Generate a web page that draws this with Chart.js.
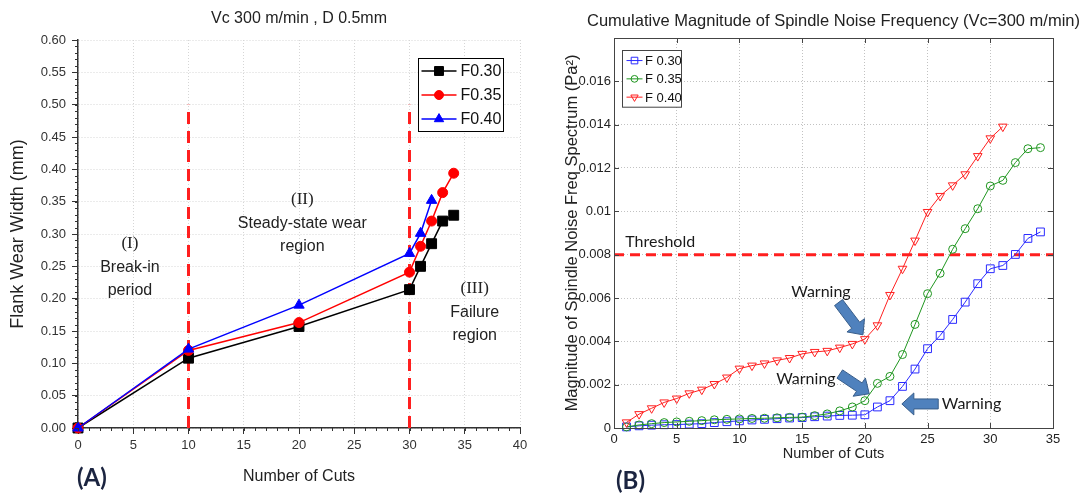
<!DOCTYPE html>
<html>
<head>
<meta charset="utf-8">
<title>Flank wear and spindle noise</title>
<script src="https://cdn.jsdelivr.net/npm/chart.js@4.4.1/dist/chart.umd.min.js"></script>
<style>
  html, body { margin: 0; padding: 0; background: #fff; }
  #wrap { position: relative; width: 1085px; height: 497px; overflow: hidden; }
  canvas { position: absolute; top: 0; }
  .panel-tag { position: absolute; font: bold 24px Lato, "Open Sans", sans-serif; line-height: 29px; color: #1b2440; }
</style>
</head>
<body>
<div id="wrap">
  <canvas id="chart-wear" width="545" height="497" style="left:0"></canvas>
  <canvas id="chart-noise" width="540" height="497" style="left:545px"></canvas>
  <div class="panel-tag" style="left:77px;top:462px">(A)</div>
  <div class="panel-tag" style="left:616px;top:465px">(B)</div>
</div>
<script>
/**
 * (A) flank wear vs cuts, (B) cumulative spindle noise magnitude vs cuts.
 */
var SANS = "'Liberation Sans', Arial, sans-serif";
var SERIF = "'Liberation Serif', 'Times New Roman', serif";
var NOTE = "Lato, 'Open Sans', sans-serif";

// --- (A) flank wear width (mm)
var cutsWear = [0, 10, 20, 30, 31, 32, 33, 34];
var cutsWearF040 = [0, 10, 20, 30, 31, 32];
var wearF030 = [0, 0.108, 0.157, 0.214, 0.25, 0.285, 0.32, 0.329];
var wearF035 = [0, 0.12, 0.163, 0.241, 0.281, 0.32, 0.364, 0.394];
var wearF040 = [0, 0.122, 0.19, 0.27, 0.301, 0.352];
var wearNames = ["F0.30", "F0.35", "F0.40"];
var phaseBounds = [10, 30];
var phaseLineTop = 0.5;
var phaseNum = ["(I)", "(II)", "(III)"];
var phaseText = [["Break-in", "period"], ["Steady-state wear", "region"], ["Failure", "region"]];
var phaseX = [4.7, 20.3, 35.9];
var phaseY = [0.285, 0.353, 0.2155];

// --- (B) cumulative magnitude of spindle noise (Pa^2)
var cutsNoise = [1, 2, 3, 4, 5, 6, 7, 8, 9, 10, 11, 12, 13, 14, 15, 16, 17, 18, 19, 20,
  21, 22, 23, 24, 25, 26, 27, 28, 29, 30, 31, 32, 33, 34];
var noiseF030 = [0.00005, 0.0001, 0.00013, 0.00015, 0.00016, 0.00018, 0.0002, 0.00025, 0.00029, 0.00033,
  0.00037, 0.0004, 0.00043, 0.00046, 0.00048, 0.00052, 0.00055, 0.00058, 0.00059, 0.00061,
  0.00097, 0.00126, 0.00192, 0.00272, 0.00366, 0.00427, 0.00501, 0.00581, 0.00666, 0.00735,
  0.0075, 0.00801, 0.00875, 0.00905];
var noiseF035 = [0.00005, 0.00014, 0.0002, 0.00025, 0.00028, 0.00031, 0.00034, 0.00038, 0.0004, 0.00042,
  0.00044, 0.00045, 0.00047, 0.00049, 0.0005, 0.00057, 0.00065, 0.00079, 0.00097, 0.00126,
  0.00206, 0.00238, 0.00339, 0.00478, 0.0062, 0.00714, 0.00825, 0.0092, 0.01012, 0.01117,
  0.01143, 0.01225, 0.01289, 0.01294];
var noiseF040 = [0.00026, 0.00064, 0.00091, 0.00118, 0.00136, 0.0016, 0.00177, 0.00203, 0.00233, 0.00274,
  0.00288, 0.00298, 0.00312, 0.00323, 0.00342, 0.00351, 0.00356, 0.00371, 0.00388, 0.0041,
  0.00474, 0.00614, 0.00735, 0.00865, 0.00997, 0.01071, 0.0112, 0.01171, 0.01255, 0.01337,
  0.01391];
var noiseNames = ["F 0.30", "F 0.35", "F 0.40"];
var threshold = 0.008;
var thresholdText = "Threshold";
var thresholdLabelX = 0.9;
var thresholdLabelY = 0.0086;
var warnText = "Warning";
var warnX = [16.5, 15.3, 28.5];
var warnY = [0.0063, 0.00226, 0.00111];
var arrowFromX = [17.9, 18.0, 25.85];
var arrowFromY = [0.00579, 0.00249, 0.00111];
var arrowToX = [19.85, 20.35, 22.95];
var arrowToY = [0.0043, 0.00158, 0.00111];

function pts(xs, ys) {
  return ys.map(function (y, i) { return { x: xs[i], y: y }; });
}

function drawBlockArrow(ctx, x0, y0, x1, y1, shaft, head, headLen) {
  var dx = x1 - x0, dy = y1 - y0;
  var len = Math.sqrt(dx * dx + dy * dy);
  var ux = dx / len, uy = dy / len, nx = -uy, ny = ux;
  var bx = x1 - ux * headLen, by = y1 - uy * headLen;
  ctx.beginPath();
  ctx.moveTo(x0 + nx * shaft, y0 + ny * shaft);
  ctx.lineTo(bx + nx * shaft, by + ny * shaft);
  ctx.lineTo(bx + nx * head, by + ny * head);
  ctx.lineTo(x1, y1);
  ctx.lineTo(bx - nx * head, by - ny * head);
  ctx.lineTo(bx - nx * shaft, by - ny * shaft);
  ctx.lineTo(x0 - nx * shaft, y0 - ny * shaft);
  ctx.closePath();
  ctx.fill();
  ctx.stroke();
}

// chart heading centred on the plot area, not squeezed to its width
var headingPlugin = {
  id: "heading",
  afterDraw: function (chart, args, opts) {
    var a = chart.chartArea, ctx = chart.ctx;
    ctx.save();
    ctx.font = opts.font;
    ctx.fillStyle = opts.color;
    ctx.textAlign = "center";
    ctx.textBaseline = "middle";
    ctx.fillText(opts.text, (a.left + a.right) / 2, opts.y);
    ctx.restore();
  },
};

// text + arrow annotations placed in data units
var notesPlugin = {
  id: "notes",
  afterDatasetsDraw: function (chart, args, opts) {
    var xs = chart.scales.x, ys = chart.scales.y, ctx = chart.ctx;
    ctx.save();
    var arrows = opts.arrows || [];
    for (var i = 0; i < arrows.length; i++) {
      var a = arrows[i];
      ctx.fillStyle = "#4f81bd";
      ctx.strokeStyle = "#385d8a";
      ctx.lineWidth = 1;
      drawBlockArrow(ctx, xs.getPixelForValue(a.x0), ys.getPixelForValue(a.y0),
        xs.getPixelForValue(a.x1), ys.getPixelForValue(a.y1), 5, 11, 12);
    }
    var texts = opts.texts || [];
    for (var j = 0; j < texts.length; j++) {
      var t = texts[j];
      ctx.font = t.font;
      ctx.fillStyle = t.color || "#222";
      ctx.textAlign = t.align || "center";
      ctx.textBaseline = "middle";
      ctx.fillText(t.text, xs.getPixelForValue(t.x), ys.getPixelForValue(t.y) + (t.dy || 0));
    }
    ctx.restore();
  },
};

// boxed legend with line + marker samples
var boxLegendPlugin = {
  id: "boxLegend",
  afterDraw: function (chart, args, opts) {
    var ctx = chart.ctx, area = chart.chartArea;
    var items = chart.data.datasets.filter(function (ds) { return !ds.legendSkip; });
    var h = opts.pad * 2 + items.length * opts.row;
    var left = opts.fromRight != null ? area.right - opts.fromRight - opts.width : area.left + opts.fromLeft;
    var top = area.top + opts.fromTop;
    left = Math.round(left) + 0.5;
    top = Math.round(top) + 0.5;
    ctx.save();
    ctx.fillStyle = "#fff";
    ctx.fillRect(left, top, opts.width, h);
    ctx.strokeStyle = opts.border;
    ctx.lineWidth = 1;
    ctx.strokeRect(left, top, opts.width, h);
    items.forEach(function (ds, i) {
      var y = top + opts.pad + opts.row * (i + 0.5);
      var x0 = left + opts.lineStart;
      ctx.setLineDash([]);
      ctx.strokeStyle = ds.borderColor;
      ctx.lineWidth = ds.borderWidth;
      ctx.beginPath();
      ctx.moveTo(x0, y);
      ctx.lineTo(x0 + opts.lineLen, y);
      ctx.stroke();
      ctx.fillStyle = ds.pointBackgroundColor;
      ctx.strokeStyle = ds.pointBorderColor;
      ctx.lineWidth = ds.pointBorderWidth;
      Chart.helpers.drawPoint(ctx, {
        pointStyle: ds.pointStyle,
        rotation: ds.pointRotation || 0,
        radius: ds.pointRadius * opts.markerScale,
        borderWidth: ds.pointBorderWidth,
      }, x0 + opts.lineLen / 2, y);
      ctx.fillStyle = "#111";
      ctx.font = opts.font;
      ctx.textAlign = "left";
      ctx.textBaseline = "middle";
      ctx.fillText(ds.label, left + opts.textStart, y + 1);
    });
    ctx.restore();
  },
};

// short outward minor ticks on the (A) axes
var minorTicksPlugin = {
  id: "minorTicks",
  afterDraw: function (chart, args, opts) {
    var ctx = chart.ctx, xs = chart.scales.x, ys = chart.scales.y;
    var nx = Math.round((xs.max - xs.min) / opts.xStep);
    var ny = Math.round((ys.max - ys.min) / opts.yStep);
    ctx.save();
    ctx.strokeStyle = opts.color;
    ctx.lineWidth = 1;
    ctx.beginPath();
    for (var i = 0; i <= nx; i++) {
      var px = Math.round(xs.getPixelForValue(xs.min + i * opts.xStep)) + 0.5;
      ctx.moveTo(px, ys.bottom);
      ctx.lineTo(px, ys.bottom + opts.len);
    }
    for (var j = 0; j <= ny; j++) {
      var py = Math.round(ys.getPixelForValue(ys.min + j * opts.yStep)) + 0.5;
      ctx.moveTo(xs.left, py);
      ctx.lineTo(xs.left - opts.len, py);
    }
    ctx.stroke();
    ctx.restore();
  },
};

// MATLAB-like box with inward ticks for (B)
var frameTicksPlugin = {
  id: "frameTicks",
  afterDraw: function (chart, args, opts) {
    var a = chart.chartArea, ctx = chart.ctx, xs = chart.scales.x, ys = chart.scales.y;
    ctx.save();
    ctx.strokeStyle = opts.color;
    ctx.lineWidth = 1;
    ctx.setLineDash([]);
    ctx.beginPath();
    xs.ticks.forEach(function (t) {
      var px = Math.round(xs.getPixelForValue(t.value)) + 0.5;
      ctx.moveTo(px, a.bottom); ctx.lineTo(px, a.bottom - opts.len);
      ctx.moveTo(px, a.top); ctx.lineTo(px, a.top + opts.len);
    });
    ys.ticks.forEach(function (t) {
      var py = Math.round(ys.getPixelForValue(t.value)) + 0.5;
      ctx.moveTo(a.left, py); ctx.lineTo(a.left + opts.len, py);
      ctx.moveTo(a.right, py); ctx.lineTo(a.right - opts.len, py);
    });
    ctx.stroke();
    ctx.strokeRect(Math.round(a.left) + 0.5, Math.round(a.top) + 0.5,
      Math.round(a.right - a.left), Math.round(a.bottom - a.top));
    ctx.restore();
  },
};

function wearSeries(label, xs, ys, color, style, radius, order) {
  return {
    label: label, data: pts(xs, ys), order: order,
    borderColor: color, borderWidth: 1.5,
    pointStyle: style, pointRadius: radius, pointBorderWidth: 1,
    pointBackgroundColor: color, pointBorderColor: color,
    tension: 0, clip: false,
  };
}

function phaseLine(x) {
  return {
    label: "boundary", legendSkip: true, order: 9,
    data: [{ x: x, y: 0 }, { x: x, y: phaseLineTop }],
    borderColor: "#ff1f1f", borderWidth: 3, borderDash: [12, 7],
    pointRadius: 0, clip: false,
  };
}

var wearTexts = [];
phaseNum.forEach(function (num, i) {
  wearTexts.push({ x: phaseX[i], y: phaseY[i], text: num, font: "17px " + SERIF });
  phaseText[i].forEach(function (line, k) {
    wearTexts.push({ x: phaseX[i], y: phaseY[i], dy: 23.5 * (k + 1), text: line, font: "16px " + SANS });
  });
});

new Chart(document.getElementById("chart-wear"), {
  type: "line",
  data: {
    datasets: [
      wearSeries(wearNames[0], cutsWear, wearF030, "#000000", "rect", 7, 3),
      wearSeries(wearNames[1], cutsWear, wearF035, "#ff0000", "circle", 5, 2),
      wearSeries(wearNames[2], cutsWearF040, wearF040, "#0000ff", "triangle", 6, 1),
      phaseLine(phaseBounds[0]),
      phaseLine(phaseBounds[1]),
    ],
  },
  options: {
    responsive: false,
    animation: false,
    devicePixelRatio: 1,
    layout: { padding: { left: 0, right: 25, top: 40, bottom: 0 } },
    plugins: {
      legend: { display: false },
      tooltip: { enabled: false },
      title: { display: false },
      heading: { text: "Vc 300 m/min , D 0.5mm", y: 19, color: "#222", font: "16px " + SANS },
      notes: { texts: wearTexts },
      boxLegend: {
        fromRight: 17, fromTop: 18, width: 85, pad: 0.5, row: 24,
        lineStart: 3, lineLen: 35, textStart: 42, markerScale: 0.9,
        border: "#000", font: "16px " + SANS,
      },
      minorTicks: { xStep: 1, yStep: 0.01, len: 3, color: "#333" },
    },
    scales: {
      x: {
        type: "linear", min: 0, max: 40,
        ticks: { stepSize: 5, padding: 4, color: "#333", font: { family: SANS, size: 13 } },
        grid: { color: "#d6d6d6", lineWidth: 1, tickColor: "#333", tickLength: 6, tickWidth: 1 },
        border: { color: "#333", width: 1.5, dash: [1, 2] },
        title: {
          display: true, text: "Number of Cuts", color: "#222",
          font: { family: SANS, size: 16 }, padding: { top: 0, bottom: 10.7 },
        },
        afterFit: function (s) { s.height = 69; },
      },
      y: {
        type: "linear", min: 0, max: 0.6,
        ticks: {
          stepSize: 0.05, padding: 6, color: "#333", font: { family: SANS, size: 13 },
          callback: function (v) { return Number(v).toFixed(2); },
        },
        grid: { color: "#d6d6d6", lineWidth: 1, tickColor: "#333", tickLength: 6, tickWidth: 1 },
        border: { color: "#333", width: 1.5, dash: [1, 2] },
        title: {
          display: true, text: "Flank Wear Width (mm)", color: "#222",
          font: { family: SANS, size: 18 }, padding: { top: 7, bottom: 0 },
        },
        afterFit: function (s) { s.width = 78; },
      },
    },
  },
  plugins: [headingPlugin, notesPlugin, boxLegendPlugin, minorTicksPlugin],
});

function noiseSeries(label, xs, ys, color, style, radius, rotation, order) {
  return {
    label: label, data: pts(xs, ys), order: order,
    borderColor: color, borderWidth: 1,
    pointStyle: style, pointRotation: rotation, pointRadius: radius, pointBorderWidth: 1,
    pointBackgroundColor: "rgba(255,255,255,0)", pointBorderColor: color,
    tension: 0, clip: false,
  };
}

var noiseTexts = [{ x: thresholdLabelX, y: thresholdLabelY, text: thresholdText, align: "left", font: "16px " + NOTE, color: "#1a1a1a" }];
var noiseArrows = [];
warnX.forEach(function (x, i) {
  noiseTexts.push({ x: x, y: warnY[i], text: warnText, font: "16px " + NOTE, color: "#1a1a1a" });
  noiseArrows.push({ x0: arrowFromX[i], y0: arrowFromY[i], x1: arrowToX[i], y1: arrowToY[i] });
});

new Chart(document.getElementById("chart-noise"), {
  type: "line",
  data: {
    datasets: [
      noiseSeries(noiseNames[0], cutsNoise, noiseF030, "#2a2aff", "rect", 5.5, 0, 3),
      noiseSeries(noiseNames[1], cutsNoise, noiseF035, "#1f961f", "circle", 4, 0, 2),
      noiseSeries(noiseNames[2], cutsNoise, noiseF040, "#ff2020", "triangle", 5, 180, 1),
      {
        label: "threshold", legendSkip: true, order: 9,
        data: [{ x: 0, y: threshold }, { x: 35, y: threshold }],
        borderColor: "#ff1f1f", borderWidth: 3, borderDash: [10, 6], pointRadius: 0,
      },
    ],
  },
  options: {
    responsive: false,
    animation: false,
    devicePixelRatio: 1,
    layout: { padding: { left: 0, right: 32, top: 38, bottom: 0 } },
    plugins: {
      legend: { display: false },
      tooltip: { enabled: false },
      title: { display: false },
      heading: {
        text: "Cumulative Magnitude of Spindle Noise Frequency (Vc=300 m/min)",
        y: 21.5, color: "#222", font: "16.5px " + SANS,
      },
      notes: { texts: noiseTexts, arrows: noiseArrows },
      boxLegend: {
        fromLeft: 7.7, fromTop: 12, width: 59, pad: 0.9, row: 18.3,
        lineStart: 4, lineLen: 16, textStart: 22.5, markerScale: 0.85,
        border: "#444", font: "13px " + SANS,
      },
      frameTicks: { len: 5, color: "#444" },
    },
    scales: {
      x: {
        type: "linear", min: 0, max: 35,
        ticks: { stepSize: 5, padding: 4, color: "#222", font: { family: SANS, size: 13 } },
        grid: { color: "#c2c2c2", lineWidth: 1, drawTicks: false },
        border: { color: "#444", width: 1, dash: [1, 2] },
        title: {
          display: true, text: "Number of Cuts", color: "#222",
          font: { family: SANS, size: 14.5 }, padding: { top: 0, bottom: 34 },
        },
        afterFit: function (s) { s.height = 69; },
      },
      y: {
        type: "linear", min: 0, max: 0.018,
        ticks: {
          stepSize: 0.002, padding: 3, color: "#222", font: { family: SANS, size: 13 },
          callback: function (v) { return v > 0.0179 ? "" : String(Number(Number(v).toFixed(3))); },
        },
        grid: { color: "#c2c2c2", lineWidth: 1, drawTicks: false },
        border: { color: "#444", width: 1, dash: [1, 2] },
        title: {
          display: true, text: "Magnitude of Spindle Noise Freq Spectrum (Pa²)", color: "#222",
          font: { family: SANS, size: 16.5 }, padding: { top: 18, bottom: 0 },
        },
        afterFit: function (s) { s.width = 69; },
      },
    },
  },
  plugins: [headingPlugin, notesPlugin, boxLegendPlugin, frameTicksPlugin],
});
</script>
</body>
</html>
